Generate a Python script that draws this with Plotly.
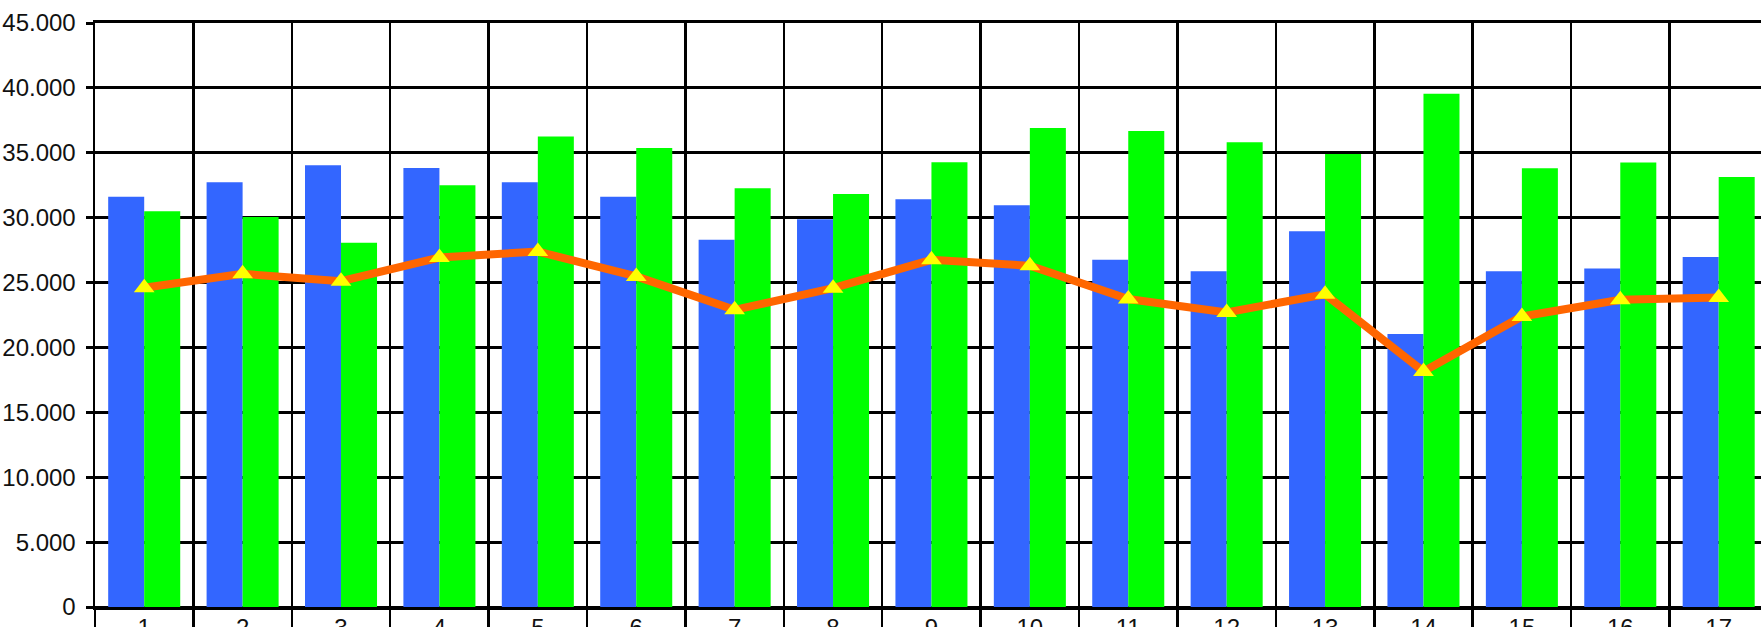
import plotly.graph_objects as go

categories = [str(i) for i in range(1, 18)]
blue_values = [31620, 32730, 34040, 33830, 32730, 31620, 28290, 29880, 31420,
               30960, 26750, 25880, 28960, 21030, 25880, 26080, 26960]
green_values = [30500, 30060, 28060, 32500, 36250, 35370, 32270, 31830, 34270,
                36910, 36680, 35810, 34910, 39550, 33810, 34250, 33140]
line_values = [24600, 25670, 25110, 26930, 27390, 25470, 22900, 24570, 26750,
               26290, 23730, 22700, 24100, 18150, 22390, 23670, 23850]
y_tick_values = [0, 5000, 10000, 15000, 20000, 25000, 30000, 35000, 40000, 45000]
y_tick_labels = ["0", "5.000", "10.000", "15.000", "20.000", "25.000",
                 "30.000", "35.000", "40.000", "45.000"]

FONT = "Liberation Sans, Arial, sans-serif"

fig = go.Figure()
fig.add_trace(go.Bar(x=categories, y=blue_values, marker=dict(color="#3366FF", line=dict(width=0)),
                     name="Serie 1"))
fig.add_trace(go.Bar(x=categories, y=green_values, marker=dict(color="#00FF00", line=dict(width=0)),
                     name="Serie 2"))
fig.add_trace(go.Scatter(x=categories, y=line_values, mode="lines+markers",
                         line=dict(color="#FF6600", width=8),
                         marker=dict(symbol="triangle-up", size=18, color="#FFFF00",
                                     line=dict(width=0)),
                         name="Serie 3"))

fig.update_layout(
    width=1761, height=627,
    margin=dict(l=95, r=0, t=23, b=20, pad=0),
    paper_bgcolor="white", plot_bgcolor="white",
    barmode="group", bargap=0.268, bargroupgap=0,
    showlegend=False,
    font=dict(family=FONT, size=24, color="#111111"),
)
fig.update_xaxes(
    type="category", range=[-0.5, 16.43], automargin=False,
    tickson="boundaries", ticks="outside", ticklen=30, tickwidth=2.5, tickcolor="black",
    ticklabelstandoff=-3,
    showgrid=True, gridcolor="black", gridwidth=2.5,
    showline=True, linecolor="black", linewidth=3, mirror=True,
    tickfont=dict(family=FONT, size=24, color="#111111"),
    fixedrange=True,
)
fig.update_yaxes(
    range=[0, 45000], tickmode="array", tickvals=y_tick_values, ticktext=y_tick_labels,
    automargin=False,
    ticks="outside", ticklen=7, tickwidth=3, tickcolor="black",
    ticklabelstandoff=5,
    showgrid=True, gridcolor="black", gridwidth=3,
    zeroline=True, zerolinecolor="black", zerolinewidth=3,
    showline=True, linecolor="black", linewidth=2.5,
    tickfont=dict(family=FONT, size=24, color="#111111"),
    fixedrange=True,
)

fig.write_html(
    "out.html",
    config={"displayModeBar": False, "staticPlot": True},
    post_script="document.body.style.margin='0';document.body.style.overflow='hidden';",
)
